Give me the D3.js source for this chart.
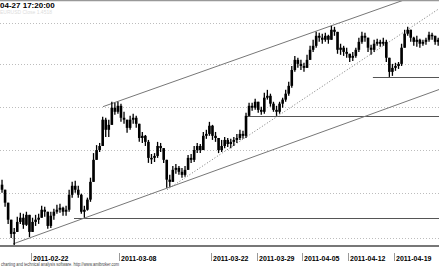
<!DOCTYPE html>
<html>
<head>
<meta charset="utf-8">
<script src="https://cdn.jsdelivr.net/npm/d3@7"></script>
<style>
  html, body { margin: 0; padding: 0; background: #fff; }
  svg { display: block; }
  text { font-family: "Liberation Sans", Arial, sans-serif; }
</style>
</head>
<body>
<div class="chart"></div>
<script>
// Price bars (EUR/USD, ~8h bars)
const closes = [
  1.3817, 1.3758, 1.3681, 1.3617, 1.3626, 1.3671, 1.3690, 1.3658, 1.3703, 1.3626,
  1.3671, 1.3681, 1.3690, 1.3726, 1.3717, 1.3653, 1.3699, 1.3717, 1.3726, 1.3735,
  1.3717, 1.3726, 1.3794, 1.3835, 1.3817, 1.3794, 1.3717, 1.3726, 1.3772, 1.3853,
  1.3954, 1.3999, 1.4018, 1.4140, 1.4093, 1.4116, 1.4196, 1.4177, 1.4205, 1.4149,
  1.4140, 1.4102, 1.4140, 1.4149, 1.4121, 1.4055, 1.4065, 1.4037, 1.3963, 1.3963,
  1.3972, 1.4018, 1.4008, 1.3954, 1.3863, 1.3853, 1.3908, 1.3917, 1.3899, 1.3885,
  1.3908, 1.3963, 1.3954, 1.3999, 1.4018, 1.3999, 1.4065, 1.4074, 1.4112, 1.4065,
  1.4055, 1.3999, 1.4018, 1.4046, 1.4027, 1.4037, 1.4046, 1.4055, 1.4074, 1.4065,
  1.4158, 1.4205, 1.4196, 1.4224, 1.4186, 1.4177, 1.4243, 1.4252, 1.4215, 1.4186,
  1.4177, 1.4215, 1.4234, 1.4262, 1.4299, 1.4374, 1.4422, 1.4403, 1.4393, 1.4384,
  1.4422, 1.4470, 1.4489, 1.4537, 1.4528, 1.4518, 1.4537, 1.4518, 1.4566, 1.4556,
  1.4470, 1.4480, 1.4460, 1.4451, 1.4432, 1.4441, 1.4470, 1.4508, 1.4537, 1.4528,
  1.4480, 1.4470, 1.4499, 1.4508, 1.4499, 1.4508, 1.4432, 1.4365, 1.4384, 1.4393,
  1.4403, 1.4480, 1.4547, 1.4566, 1.4528, 1.4508, 1.4518, 1.4499, 1.4508, 1.4518,
  1.4542, 1.4537, 1.4508, 1.4518
];
const highs = [
  1.3863, 1.3794, 1.3726, 1.3671, 1.3644, 1.3694, 1.3712, 1.3708, 1.3717, 1.3658,
  1.3690, 1.3703, 1.3708, 1.3744, 1.3740, 1.3703, 1.3717, 1.3731, 1.3749, 1.3753,
  1.3740, 1.3744, 1.3817, 1.3853, 1.3858, 1.3835, 1.3799, 1.3744, 1.3781, 1.3872,
  1.3985, 1.4022, 1.4032, 1.4154, 1.4149, 1.4140, 1.4224, 1.4219, 1.4224, 1.4215,
  1.4177, 1.4140, 1.4158, 1.4168, 1.4158, 1.4112, 1.4083, 1.4069, 1.4046, 1.3981,
  1.3985, 1.4037, 1.4032, 1.3999, 1.3944, 1.3885, 1.3926, 1.3935, 1.3926, 1.3917,
  1.3926, 1.3976, 1.3981, 1.4018, 1.4032, 1.4027, 1.4083, 1.4093, 1.4130, 1.4116,
  1.4083, 1.4055, 1.4046, 1.4060, 1.4055, 1.4051, 1.4060, 1.4074, 1.4093, 1.4088,
  1.4173, 1.4219, 1.4219, 1.4238, 1.4215, 1.4201, 1.4266, 1.4280, 1.4262, 1.4224,
  1.4205, 1.4224, 1.4243, 1.4280, 1.4318, 1.4393, 1.4441, 1.4432, 1.4422, 1.4408,
  1.4446, 1.4489, 1.4518, 1.4556, 1.4552, 1.4547, 1.4552, 1.4542, 1.4585, 1.4580,
  1.4556, 1.4499, 1.4489, 1.4480, 1.4451, 1.4460, 1.4480, 1.4528, 1.4556, 1.4552,
  1.4528, 1.4494, 1.4518, 1.4523, 1.4518, 1.4528, 1.4518, 1.4432, 1.4403, 1.4408,
  1.4412, 1.4499, 1.4566, 1.4580, 1.4566, 1.4532, 1.4537, 1.4523, 1.4518, 1.4528,
  1.4556, 1.4552, 1.4537, 1.4528
];
const lows = [
  1.3803, 1.3740, 1.3662, 1.3599, 1.3567, 1.3635, 1.3662, 1.3640, 1.3653, 1.3603,
  1.3626, 1.3653, 1.3662, 1.3699, 1.3694, 1.3640, 1.3644, 1.3681, 1.3708, 1.3712,
  1.3699, 1.3699, 1.3717, 1.3781, 1.3803, 1.3781, 1.3708, 1.3690, 1.3722, 1.3762,
  1.3863, 1.3963, 1.3990, 1.4022, 1.4060, 1.4060, 1.4116, 1.4163, 1.4168, 1.4130,
  1.4121, 1.4079, 1.4093, 1.4121, 1.4102, 1.4037, 1.4032, 1.4018, 1.3940, 1.3935,
  1.3944, 1.3963, 1.3990, 1.3940, 1.3826, 1.3831, 1.3853, 1.3890, 1.3885, 1.3872,
  1.3876, 1.3908, 1.3940, 1.3944, 1.3985, 1.3985, 1.3999, 1.4051, 1.4065, 1.4046,
  1.4037, 1.3985, 1.3990, 1.4008, 1.4013, 1.4008, 1.4018, 1.4032, 1.4046, 1.4051,
  1.4055, 1.4158, 1.4182, 1.4186, 1.4173, 1.4163, 1.4168, 1.4234, 1.4201, 1.4177,
  1.4158, 1.4168, 1.4196, 1.4224, 1.4252, 1.4290, 1.4365, 1.4384, 1.4374, 1.4365,
  1.4384, 1.4422, 1.4460, 1.4480, 1.4508, 1.4499, 1.4508, 1.4499, 1.4518, 1.4537,
  1.4451, 1.4446, 1.4441, 1.4432, 1.4412, 1.4417, 1.4432, 1.4460, 1.4499, 1.4508,
  1.4460, 1.4446, 1.4460, 1.4489, 1.4484, 1.4489, 1.4412, 1.4341, 1.4346, 1.4370,
  1.4379, 1.4393, 1.4480, 1.4537, 1.4508, 1.4489, 1.4484, 1.4480, 1.4489, 1.4494,
  1.4508, 1.4518, 1.4494, 1.4489
];
const firstOpen = 1.3840;

const gridPrices = [1.36, 1.38, 1.40, 1.42, 1.44, 1.46];
const tickIndex = [10, 39, 69, 84, 99, 114, 129];
const tickLabels = ["2011-02-22", "2011-03-08", "2011-03-22", "2011-03-29",
                    "2011-04-05", "2011-04-12", "2011-04-19"];

// trend lines as [fromBar, fromPrice, toBar, toPrice], extended to the right
const channelLines = [
  [33.6, 1.4201, 98.2, 1.4532],
  [4.1, 1.3572, 98.2, 1.4046]
];
const dottedLine = [54.6, 1.3817, 103.8, 1.4280];
// horizontal levels: start bar and price
const levelStarts = [24.1, 80.5, 122.1];
const levelPrices = [1.3690, 1.4158, 1.4341];

const titleText = "04-27 17:20:00";
const footerText = "charting and technical analysis software. http://www.amibroker.com";

/* -- drawing -- */
const width = 439, height = 268;
const plotTop = 1, plotBottom = 245;

const svg = d3.select(".chart").append("svg")
  .attr("width", width)
  .attr("height", height);

const x = d3.scaleLinear().domain([0, closes.length]).range([0.5, 439.7]);
const y = d3.scaleLog().domain([1.36, 1.46]).range([237.7, 22.7]);

svg.append("clipPath").attr("id", "plot")
  .append("rect")
  .attr("x", 0).attr("y", plotTop)
  .attr("width", width).attr("height", plotBottom - plotTop);

// top border
svg.append("line")
  .attr("x1", 0).attr("x2", width)
  .attr("y1", 0.5).attr("y2", 0.5)
  .attr("stroke", "#999").attr("stroke-width", 1.5);

// dotted gridlines
svg.append("g").selectAll("line").data(gridPrices).enter()
  .append("line")
  .attr("x1", 0).attr("x2", width)
  .attr("y1", d => Math.round(y(d)) + 0.5)
  .attr("y2", d => Math.round(y(d)) + 0.5)
  .attr("stroke", "#bdbdbd")
  .attr("stroke-dasharray", "1,2");

const plot = svg.append("g").attr("clip-path", "url(#plot)");

// extend a line through two data points to the right edge
function extendRight(l) {
  const x1 = x(l[0]), y1 = y(l[1]), x2 = x(l[2]), y2 = y(l[3]);
  const slope = (y2 - y1) / (x2 - x1);
  return [x1, y1, width, y1 + slope * (width - x1)];
}

// horizontal levels
plot.append("g").selectAll("line").data(levelPrices).enter()
  .append("line")
  .attr("x1", (d, i) => x(levelStarts[i]))
  .attr("x2", width)
  .attr("y1", d => Math.round(y(d)) + 0.5)
  .attr("y2", d => Math.round(y(d)) + 0.5)
  .attr("stroke", "#555");

// channel lines
plot.append("g").selectAll("line").data(channelLines.map(extendRight)).enter()
  .append("line")
  .attr("x1", d => d[0]).attr("y1", d => d[1])
  .attr("x2", d => d[2]).attr("y2", d => d[3])
  .attr("stroke", "#777");

const dl = extendRight(dottedLine);
plot.append("line")
  .attr("x1", dl[0]).attr("y1", dl[1])
  .attr("x2", dl[2]).attr("y2", dl[3])
  .attr("stroke", "#777")
  .attr("stroke-dasharray", "1,2");

// candles
const bars = closes.map((c, i) => {
  const o = i === 0 ? firstOpen : closes[i - 1];
  return {
    i: i, o: o, c: c,
    h: Math.max(highs[i], o, c),
    l: Math.min(lows[i], o, c)
  };
});

const candle = plot.append("g").selectAll("g").data(bars).enter().append("g");
candle.append("line")
  .attr("x1", d => x(d.i + 0.5)).attr("x2", d => x(d.i + 0.5))
  .attr("y1", d => y(d.h)).attr("y2", d => y(d.l))
  .attr("stroke", "#000").attr("stroke-width", 1.3);
candle.append("rect")
  .attr("x", d => x(d.i + 0.5) - 1.3)
  .attr("width", 2.6)
  .attr("y", d => y(Math.max(d.o, d.c)))
  .attr("height", d => Math.max(1.5, Math.abs(y(d.o) - y(d.c))))
  .attr("fill", "#000");

// bottom axis
svg.append("line")
  .attr("x1", 0).attr("x2", width)
  .attr("y1", 246).attr("y2", 246)
  .attr("stroke", "#777").attr("stroke-width", 2);

const ticks = svg.append("g").selectAll("g").data(tickIndex).enter().append("g");
ticks.append("line")
  .attr("x1", d => Math.round(x(d)) + 0.5).attr("x2", d => Math.round(x(d)) + 0.5)
  .attr("y1", 253).attr("y2", 261)
  .attr("stroke", "#999");
ticks.append("text")
  .attr("x", d => Math.round(x(d)) + 2)
  .attr("y", 261)
  .attr("font-size", 7)
  .attr("font-weight", "bold")
  .attr("fill", "#000")
  .text((d, i) => tickLabels[i]);

// title and footer
svg.append("text")
  .attr("x", 0).attr("y", 8)
  .attr("font-size", 8).attr("font-weight", "bold")
  .attr("fill", "#000")
  .text(titleText);
svg.append("text")
  .attr("x", 0).attr("y", 13.5)
  .attr("font-size", 5)
  .attr("fill", "#ddd")
  .text("EURUSD Close 1.4518");

svg.append("text")
  .attr("x", 1).attr("y", 266)
  .attr("font-size", 4.6)
  .attr("fill", "#444")
  .attr("textLength", 118)
  .attr("lengthAdjust", "spacingAndGlyphs")
  .text(footerText);
</script>
</body>
</html>
